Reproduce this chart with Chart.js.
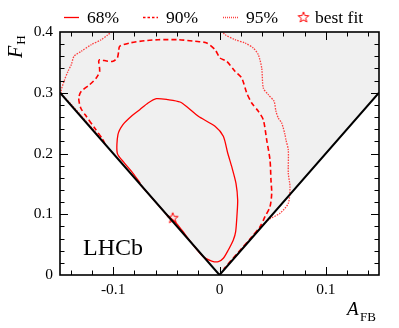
<!DOCTYPE html>
<html>
<head>
<meta charset="utf-8">
<script src="https://cdn.jsdelivr.net/npm/chart.js@4.4.1/dist/chart.umd.min.js"></script>
<style>
  html, body { margin: 0; padding: 0; background: #fff; }
</style>
</head>
<body>
<canvas id="c" width="399" height="328"></canvas>
<script>
// --- Data (A_FB, F_H) ---

// physical boundary |A_FB| <= F_H / 2
const boundary = [[-0.15, 0.3], [0, 0], [0.15, 0.3]];

// 68% CL contour
const cl68 = [
  [-0.0745, 0.151], [-0.0813, 0.1674], [-0.0892, 0.1839], [-0.0961, 0.2003], [-0.0955, 0.231],
  [-0.0908, 0.2474], [-0.0829, 0.2612], [-0.075, 0.2721], [-0.0672, 0.2831], [-0.0594, 0.2902],
  [-0.0484, 0.2886], [-0.0371, 0.2848], [-0.0293, 0.2749], [-0.0199, 0.2612], [-0.0042, 0.2448],
  [0.0036, 0.2283], [0.0077, 0.2008], [0.0115, 0.1783], [0.0155, 0.1509], [0.0171, 0.1235],
  [0.0165, 0.1], [0.0152, 0.0713], [0.013, 0.0576], [0.0083, 0.0412], [0.0036, 0.0275],
  [-0.0011, 0.0219], [-0.0073, 0.023], [-0.0152, 0.0301], [-0.025, 0.05], [-0.0355, 0.0741],
  [-0.0419, 0.0877], [-0.05, 0.1], [-0.0745, 0.149]
];

// 90% CL contour
const cl90 = [
  [-0.1077, 0.2156], [-0.1096, 0.2227], [-0.1174, 0.242], [-0.1253, 0.2612], [-0.1305, 0.2749],
  [-0.1324, 0.2914], [-0.13, 0.3024], [-0.1221, 0.3133], [-0.1159, 0.3243], [-0.1127, 0.3353],
  [-0.1136, 0.3518], [-0.1127, 0.3544], [-0.1049, 0.3518], [-0.1002, 0.3518], [-0.0961, 0.3572],
  [-0.0948, 0.3682], [-0.0939, 0.3765], [-0.0845, 0.3819], [-0.0703, 0.3857], [-0.0578, 0.3873],
  [-0.0387, 0.3873], [-0.023, 0.3847], [-0.012, 0.3819], [-0.0042, 0.3709], [0.0005, 0.3572],
  [0.0068, 0.3518], [0.0146, 0.3353], [0.0209, 0.3243], [0.0256, 0.2996], [0.0303, 0.2831],
  [0.0365, 0.2695], [0.0412, 0.2556], [0.0444, 0.2222], [0.0475, 0.1893], [0.0484, 0.1564],
  [0.0491, 0.1345], [0.0475, 0.1124], [0.0428, 0.096], [0.0381, 0.0795], [0.03, 0.062],
  [0.02, 0.042], [0.01, 0.022], [0.004, 0.01]
];

// 95% CL contour (leaves the frame at the top, so two pieces)
const cl95 = [
  [-0.11, 0.222], [-0.125, 0.252], [-0.14, 0.282], [-0.1489, 0.2996], [-0.1462, 0.3188],
  [-0.1425, 0.3353], [-0.1394, 0.3462], [-0.1368, 0.36], [-0.13, 0.3682], [-0.1206, 0.3791],
  [-0.1112, 0.3873], [-0.1055, 0.3946], [-0.1, 0.402],
  null,
  [0.002, 0.402], [0.0052, 0.3956], [0.0146, 0.3873], [0.024, 0.3819], [0.0318, 0.3737],
  [0.0365, 0.3626], [0.0397, 0.3407], [0.0412, 0.3078], [0.0459, 0.2968], [0.0513, 0.2859],
  [0.0531, 0.2695], [0.0553, 0.2584], [0.0585, 0.2502], [0.0616, 0.2309], [0.0625, 0.2222],
  [0.0647, 0.2058], [0.0647, 0.1674], [0.0663, 0.1453], [0.0647, 0.118], [0.0569, 0.1016],
  [0.0456, 0.0905], [0.035, 0.071], [0.02, 0.041]
];

const bestFit = [[-0.044, 0.0943]];

const xTickValues = [-0.1, 0, 0.1];
const xTickLabels = ['-0.1', '0', '0.1'];
const yTickValues = [0, 0.1, 0.2, 0.3, 0.4];
const yTickLabels = ['0', '0.1', '0.2', '0.3', '0.4'];

const legendLabels = ['68%', '90%', '95%', 'best fit'];

// --- Helpers ---

const SERIF = '"Liberation Serif", "Times New Roman", serif';
const RED = '#ff0000';

function toPoints(arr) {
  return arr.map(p => p ? { x: p[0], y: p[1] } : { x: NaN, y: null });
}

function starPath(ctx, cx, cy, R) {
  const r = R * 0.42;
  ctx.beginPath();
  for (let i = 0; i < 10; i++) {
    const rad = (i % 2 === 0) ? R : r;
    const a = -Math.PI / 2 + i * Math.PI / 5;
    const px = cx + rad * Math.cos(a);
    const py = cy + rad * Math.sin(a);
    if (i === 0) ctx.moveTo(px, py); else ctx.lineTo(px, py);
  }
  ctx.closePath();
}

// open star marker used as point style
const starImg = document.createElement('canvas');
starImg.width = 14;
starImg.height = 14;
(function () {
  const c = starImg.getContext('2d');
  c.strokeStyle = RED;
  c.lineWidth = 1;
  starPath(c, 7, 7.5, 5.6);
  c.stroke();
})();

// --- Plugins: frame with inward ticks, labels, legend ---

const frameTicks = {
  id: 'frameTicks',
  afterDatasetsDraw(chart) {
    const { ctx, chartArea: a, scales: { x, y } } = chart;
    ctx.save();
    ctx.strokeStyle = '#000';
    ctx.lineWidth = 1;
    ctx.beginPath();
    for (let i = -7; i <= 7; i++) {
      const px = Math.round(x.getPixelForValue(i * 0.02)) + 0.5;
      const len = i % 5 === 0 ? 8 : 4.5;
      ctx.moveTo(px, a.bottom); ctx.lineTo(px, a.bottom - len);
      ctx.moveTo(px, a.top); ctx.lineTo(px, a.top + len);
    }
    for (let i = 1; i <= 19; i++) {
      const py = Math.round(y.getPixelForValue(i * 0.02)) + 0.5;
      const len = i % 5 === 0 ? 8 : 4.5;
      ctx.moveTo(a.left, py); ctx.lineTo(a.left + len, py);
      ctx.moveTo(a.right, py); ctx.lineTo(a.right - len, py);
    }
    ctx.stroke();
    ctx.lineWidth = 1.6;
    ctx.strokeRect(a.left, a.top, a.right - a.left, a.bottom - a.top);
    ctx.restore();
  },
  afterDraw(chart) {
    const ctx = chart.ctx;
    ctx.save();
    ctx.fillStyle = '#000';
    ctx.textBaseline = 'alphabetic';
    ctx.textAlign = 'left';

    // y title: F_H
    ctx.save();
    ctx.translate(22, 58);
    ctx.rotate(-Math.PI / 2);
    ctx.font = 'italic 20px ' + SERIF;
    ctx.fillText('F', 0, 0);
    const wF = ctx.measureText('F').width;
    ctx.font = '13px ' + SERIF;
    ctx.fillText('H', wF + 1, 2.5);
    ctx.restore();

    // x title: A_FB
    ctx.font = 'italic 19px ' + SERIF;
    ctx.fillText('A', 347, 315);
    ctx.font = '13px ' + SERIF;
    ctx.fillText('FB', 360, 321);

    // experiment label
    ctx.font = '24px ' + SERIF;
    ctx.fillText('LHCb', 83, 255);

    // legend
    const legendX = [64, 143, 223, 298];
    const legendDash = [[], [2.5, 2], [1, 1]];
    const ly = 17.5;
    ctx.font = '17.5px ' + SERIF;
    ctx.textBaseline = 'middle';
    legendLabels.forEach((lab, i) => {
      const ds = chart.data.datasets[i];
      const x0 = legendX[i];
      let tx;
      if (i < 3) {
        ctx.save();
        ctx.strokeStyle = ds.borderColor;
        ctx.lineWidth = ds.borderWidth;
        ctx.setLineDash(legendDash[i]);
        ctx.beginPath();
        ctx.moveTo(x0, ly); ctx.lineTo(x0 + 15, ly);
        ctx.stroke();
        ctx.restore();
        tx = x0 + 23;
      } else {
        ctx.drawImage(starImg, x0 - 1.5, ly - 7.5);
        tx = x0 + 17;
      }
      ctx.fillStyle = '#000';
      ctx.fillText(lab, tx, ly + 1);
    });
    ctx.restore();
  }
};

// --- Chart ---

const lineBase = { showLine: true, pointRadius: 0, fill: false, tension: 0.25, spanGaps: false };

new Chart(document.getElementById('c'), {
  type: 'scatter',
  data: {
    datasets: [
      Object.assign({}, lineBase, {
        label: legendLabels[0], data: toPoints(cl68),
        borderColor: RED, borderWidth: 1.3, order: 2
      }),
      Object.assign({}, lineBase, {
        label: legendLabels[1], data: toPoints(cl90),
        borderColor: RED, borderWidth: 1.6, borderDash: [5, 3], order: 3
      }),
      Object.assign({}, lineBase, {
        label: legendLabels[2], data: toPoints(cl95),
        borderColor: 'rgba(255,30,30,0.85)', borderWidth: 1.3, borderDash: [1.5, 1.2], order: 4
      }),
      {
        label: legendLabels[3], data: toPoints(bestFit), showLine: false,
        pointStyle: starImg, pointRadius: 5, order: 1
      },
      {
        label: 'boundary', data: toPoints(boundary), showLine: true, pointRadius: 0,
        borderColor: '#000', borderWidth: 2, fill: 'end', backgroundColor: '#f0f0f0',
        tension: 0, order: 0
      }
    ]
  },
  options: {
    responsive: false,
    animation: false,
    layout: { padding: { top: 32, right: 20, left: 0, bottom: 0 } },
    plugins: {
      legend: { display: false },
      tooltip: { enabled: false },
      filler: { drawTime: 'beforeDatasetsDraw' }
    },
    scales: {
      x: {
        type: 'linear', min: -0.15, max: 0.15,
        grid: { display: false, drawTicks: false },
        border: { display: false },
        afterBuildTicks: s => { s.ticks = xTickValues.map(v => ({ value: v })); },
        afterFit: s => { s.height = 53; },
        ticks: {
          padding: 6, color: '#000', maxRotation: 0,
          font: { family: SERIF, size: 15.5 },
          callback: (v, i) => xTickLabels[i]
        }
      },
      y: {
        type: 'linear', min: 0, max: 0.4,
        grid: { display: false, drawTicks: false },
        border: { display: false },
        afterBuildTicks: s => { s.ticks = yTickValues.map(v => ({ value: v })); },
        afterFit: s => { s.width = 60; },
        ticks: {
          padding: 7, color: '#000',
          font: { family: SERIF, size: 15.5 },
          callback: (v, i) => yTickLabels[i]
        }
      }
    }
  },
  plugins: [frameTicks]
});
</script>
</body>
</html>
